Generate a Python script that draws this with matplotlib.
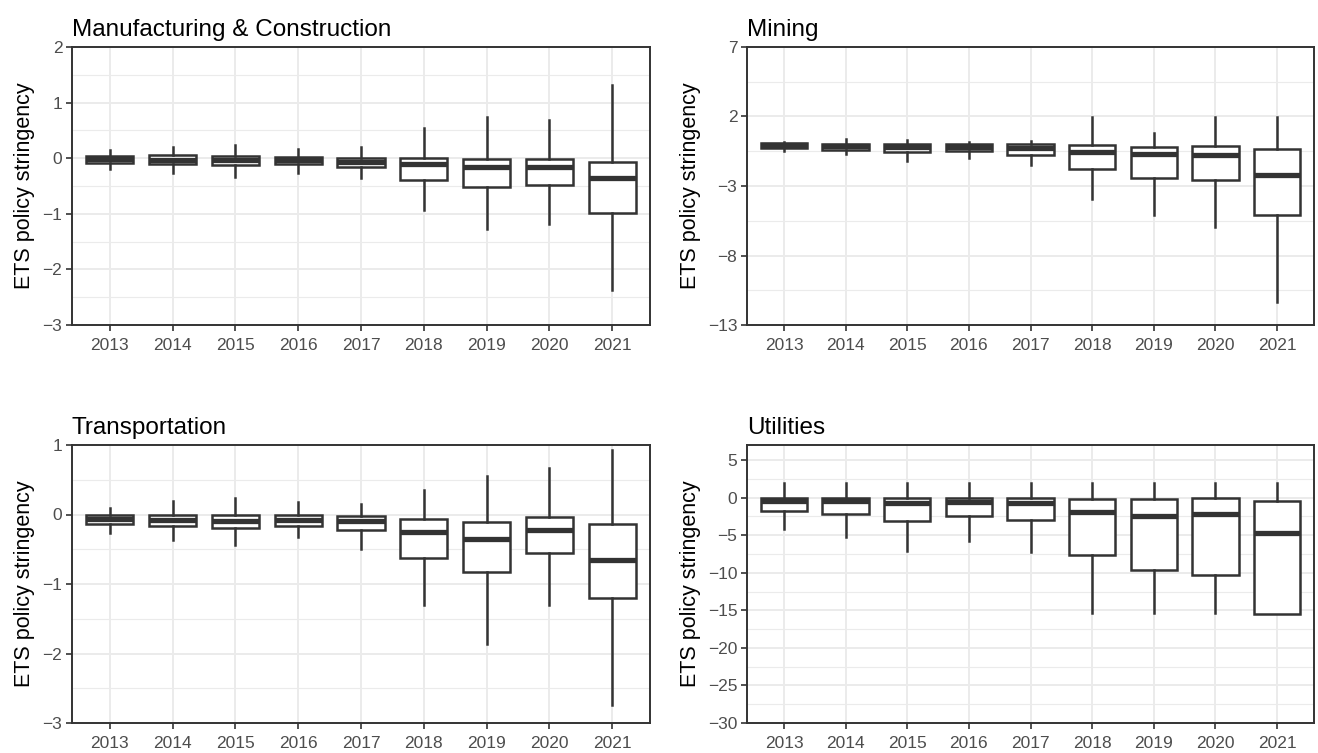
import matplotlib
matplotlib.use("Agg")
import matplotlib.pyplot as plt
import numpy as np

plt.rcParams['font.family'] = ['Liberation Sans', 'DejaVu Sans']

years = ["2013", "2014", "2015", "2016", "2017", "2018", "2019", "2020", "2021"]

# Manufacturing & Construction
manu_lo = [-0.19, -0.26, -0.33, -0.26, -0.35, -0.93, -1.27, -1.19, -2.37]
manu_q1 = [-0.08, -0.10, -0.13, -0.11, -0.15, -0.39, -0.52, -0.49, -0.99]
manu_med = [-0.02, -0.04, -0.04, -0.04, -0.06, -0.10, -0.15, -0.15, -0.35]
manu_q3 = [0.04, 0.05, 0.04, 0.02, 0.01, 0.01, -0.01, -0.01, -0.06]
manu_hi = [0.15, 0.21, 0.24, 0.17, 0.21, 0.55, 0.74, 0.69, 1.31]

# Mining
mine_lo = [-0.46, -0.67, -1.18, -0.96, -1.52, -3.93, -5.11, -5.93, -11.37]
mine_q1 = [-0.27, -0.39, -0.58, -0.48, -0.75, -1.78, -2.39, -2.58, -5.08]
mine_med = [-0.07, -0.15, -0.20, -0.20, -0.27, -0.53, -0.70, -0.80, -2.24]
mine_q3 = [0.10, 0.05, 0.02, 0.00, 0.00, -0.07, -0.17, -0.12, -0.34]
mine_hi = [0.19, 0.36, 0.29, 0.14, 0.22, 1.93, 0.80, 1.93, 1.93]

# Transportation
trans_lo = [-0.27, -0.36, -0.44, -0.33, -0.49, -1.30, -1.86, -1.30, -2.74]
trans_q1 = [-0.13, -0.17, -0.20, -0.17, -0.23, -0.62, -0.83, -0.55, -1.20]
trans_med = [-0.06, -0.08, -0.09, -0.08, -0.10, -0.25, -0.35, -0.23, -0.66]
trans_q3 = [0.00, -0.01, 0.00, -0.01, -0.02, -0.07, -0.11, -0.03, -0.13]
trans_hi = [0.10, 0.19, 0.24, 0.18, 0.15, 0.35, 0.56, 0.67, 0.93]

# Utilities
util_lo = [-4.2, -5.3, -7.1, -5.8, -7.2, -15.4, -15.4, -15.4, -15.5]
util_q1 = [-1.75, -2.2, -3.1, -2.4, -3.0, -7.6, -9.6, -10.3, -15.5]
util_med = [-0.5, -0.5, -0.7, -0.55, -0.7, -1.9, -2.4, -2.2, -4.7]
util_q3 = [0.0, 0.0, 0.0, 0.0, 0.0, -0.13, -0.13, -0.1, -0.45]
util_hi = [1.9, 1.9, 1.9, 1.9, 1.9, 1.9, 1.9, 1.9, 1.9]

panels = [
    ("Manufacturing & Construction", (manu_lo, manu_q1, manu_med, manu_q3, manu_hi), (-3, 2), [-3, -2, -1, 0, 1, 2]),
    ("Mining", (mine_lo, mine_q1, mine_med, mine_q3, mine_hi), (-13, 7), [-13, -8, -3, 2, 7]),
    ("Transportation", (trans_lo, trans_q1, trans_med, trans_q3, trans_hi), (-3, 1), [-3, -2, -1, 0, 1]),
    ("Utilities", (util_lo, util_q1, util_med, util_q3, util_hi), (-30, 7), [-30, -25, -20, -15, -10, -5, 0, 5]),
]

W, H = 1318, 753
# panel boxes in pixels: left, right, top, bottom
boxes = [(72, 650, 47, 325), (747, 1314, 47, 325), (72, 650, 445, 723), (747, 1314, 445, 723)]

dark = "#333333"
fig = plt.figure(figsize=(W / 100, H / 100), dpi=100)

for (title, stats_arr, ylim, yticks), (l, r, t, b) in zip(panels, boxes):
    ax = fig.add_axes([l / W, 1 - b / H, (r - l) / W, (b - t) / H])
    lo, q1, med, q3, hi = stats_arr
    stats = [dict(whislo=lo[i], q1=q1[i], med=med[i], q3=q3[i], whishi=hi[i], label=years[i])
             for i in range(len(years))]
    ax.bxp(stats, positions=np.arange(1, len(years) + 1), widths=0.75, patch_artist=True,
           showfliers=False, showcaps=False,
           boxprops=dict(facecolor="white", edgecolor=dark, linewidth=1.8),
           medianprops=dict(color=dark, linewidth=3.8, solid_capstyle="butt"),
           whiskerprops=dict(color=dark, linewidth=1.8))
    ax.set_xlim(0.4, len(years) + 0.6)
    ax.set_ylim(*ylim)
    ax.set_yticks(yticks)
    ax.set_yticklabels([str(v).replace("-", "\u2212") for v in yticks])
    step = yticks[1] - yticks[0]
    minors = [v + step / 2 for v in yticks[:-1]]
    if ylim[1] - yticks[-1] > step / 2:
        minors.append(yticks[-1] + step / 2)
    ax.set_yticks(minors, minor=True)
    ax.set_xticks(np.arange(1, len(years) + 1))
    ax.set_xticklabels(years)
    ax.set_axisbelow(True)
    ax.grid(True, which="major", color="#EBEBEB", linewidth=1.4)
    ax.grid(True, which="minor", axis="y", color="#EBEBEB", linewidth=0.8)
    ax.tick_params(axis="both", which="major", direction="out", length=4, width=1.2,
                   color=dark, labelcolor="#4D4D4D", labelsize=12.5, pad=3)
    ax.tick_params(axis="x", which="major", pad=5)
    ax.tick_params(axis="y", which="minor", length=0)
    for sp in ax.spines.values():
        sp.set_color(dark)
        sp.set_linewidth(1.4)
    ax.set_title(title, loc="left", fontsize=17.5, pad=8)
    ax.set_ylabel("ETS policy stringency", fontsize=15.5, labelpad=5)

fig.savefig("out.png", dpi=100, facecolor="white")
